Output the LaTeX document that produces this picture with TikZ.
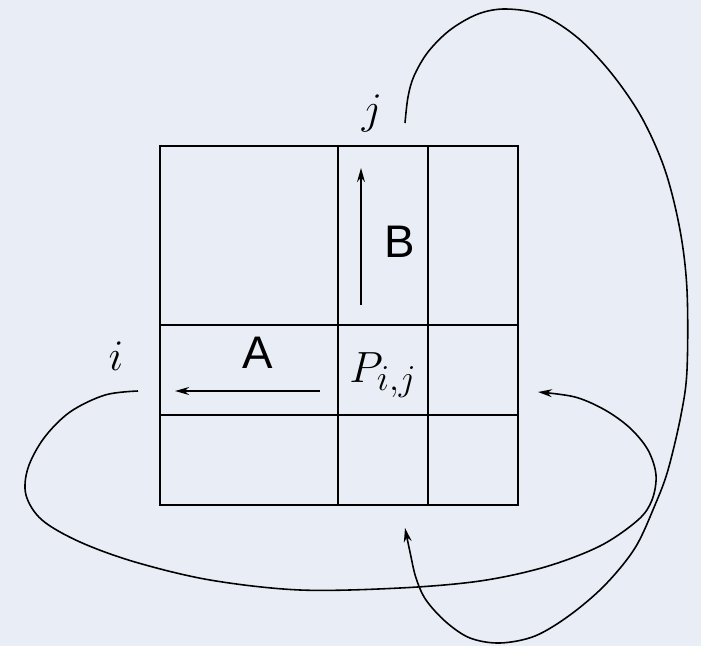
\documentclass[tikz,border=0pt]{standalone}
\usepackage{amsmath}
\usepackage{fontspec}
\setsansfont{Liberation Sans}
\usetikzlibrary{arrows.meta}
\definecolor{paper}{RGB}{233,238,246}

\begin{document}
\begin{tikzpicture}[x=0.02cm,y=-0.02cm,>={Stealth[length=8pt,width=4.5pt]},
  cell/.style={line width=1.1pt},
  wrap/.style={line width=0.9pt},
  sans/.style={font=\fontsize{26}{30}\sffamily},
  mth/.style={font=\fontsize{29}{34}\selectfont,inner sep=0pt}]
\fill[paper] (0,0) rectangle (701,646);
% the 3x3 block grid
\draw[cell] (160,146) rectangle (518,505);
\draw[cell] (338,146)--(338,505) (428,146)--(428,505);
\draw[cell] (160,325)--(518,325) (160,415)--(518,415);
\node[sans] (lblA) at (258,353) {A};
\node[sans] (lblB) at (400,242) {B};
\node[mth,anchor=base west] (lblP) at (349,382) {$P_{i,j}$};
\node[mth,anchor=base] (lblj) at (372,123) {$j$};
\node[mth,anchor=base] (lbli) at (116,370) {$i$};
% sweeps along row and column
\coordinate (atail) at (320,391); \coordinate (ahead) at (175,391);
\coordinate (btail) at (361,305); \coordinate (bhead) at (361,168);
\draw[cell,->] (atail)--(ahead);
\draw[cell,->] (btail)--(bhead);
% wrap-around of column j
\coordinate (jtail) at (405,123); \coordinate (jhead) at (405,528);
\draw[wrap,->] plot[smooth,tension=0.55] coordinates {(jtail) (408,97) (414,76) (428,52)
  (450,30) (478,14) (506,9) (542,15) (578,38) (612,74) (642,118) (665,170) (680,230)
  (687,290) (687,370) (681,415) (668,470) (655,505) (635,548) (605,585) (570,615)
  (535,636) (500,643) (470,638) (446,622) (426,600) (416,578) (410,552) (jhead)};
% wrap-around of row i
\coordinate (itail) at (138,391); \coordinate (ihead) at (538,392);
\draw[wrap,->] plot[smooth,tension=0.55] coordinates {(itail) (105,395) (70,412) (44,438)
  (28,468) (26,495) (42,520) (80,542) (135,562) (210,580) (300,590) (400,588)
  (480,581) (545,567) (600,546) (638,520) (652,500) (656,475) (648,450) (630,428)
  (605,410) (575,397) (ihead)};
\end{tikzpicture}
\end{document}
